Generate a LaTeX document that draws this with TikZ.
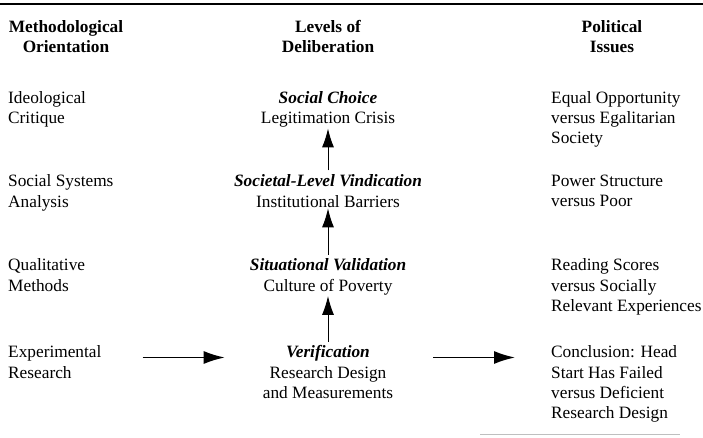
\documentclass[tikz,border=0pt]{standalone}
\usepackage{fontspec}
\setmainfont{Liberation Serif}
\usetikzlibrary{arrows.meta}

\begin{document}
\begin{tikzpicture}[x = 1pt, y = -1pt,
    every node/.style = {inner sep = 0pt, font = \fontsize{17.3}{20.3}\selectfont},
    head/.style = {anchor = north, align = center, font = \fontsize{17.3}{20.3}\selectfont\bfseries},
    orient/.style = {anchor = north west, align = left},
    level/.style = {anchor = north, align = center},
    issue/.style = {anchor = north west, align = left},
    uparrow/.style = {-{Latex[length = 19pt, width = 12pt]}, line width = 1pt, shorten <= 4pt, shorten >= 1pt},
    across/.style = {-{Latex[length = 21pt, width = 13pt]}, line width = 1.6pt}]
    \useasboundingbox (0,0) rectangle (703,438);
    \draw[line width = 2pt] (0,4) -- (703,4);
    % column heads
    \node[head] (hmeth) at (66,20) {Methodological\\Orientation};
    \node[head] (hlev) at (328,20) {Levels of\\Deliberation};
    \node[head] (hpol) at (612,20) {Political\\Issues};
    % methodological orientation
    \node[orient] (ideo) at (8,91) {Ideological\\Critique};
    \node[orient] (syst) at (8,174.5) {Social Systems\\Analysis};
    \node[orient] (qual) at (8,258.5) {Qualitative\\Methods};
    \node[orient] (exp) at (8,345.5) {Experimental\\Research};
    % levels of deliberation
    \node[level] (choice) at (328,91) {\textbf{\textit{Social Choice}}\\Legitimation Crisis};
    \node[level] (societal) at (328,174.5) {\textbf{\textit{Societal-Level Vindication}}\\Institutional Barriers};
    \node[level] (situ) at (328,258.5) {\textbf{\textit{Situational Validation}}\\Culture of Poverty};
    \node[level] (verif) at (328,345.5) {\textbf{\textit{Verification}}\\Research Design\\and Measurements};
    % political issues
    \node[issue] (equal) at (551,91) {Equal Opportunity\\versus Egalitarian\\Society};
    \node[issue] (power) at (551,174.5) {Power Structure\\versus Poor};
    \node[issue] (reading) at (551,258.5) {Reading Scores\\versus Socially\\Relevant Experiences};
    \node[issue] (concl) at (551,345.5) {Conclusion: Head\\Start Has Failed\\versus Deficient\\Research Design};
    % arrows
    \draw[uparrow] (verif.north) -- (situ.south);
    \draw[uparrow] (situ.north) -- (societal.south);
    \draw[uparrow] (societal.north) -- (choice.south);
    \draw[across, shorten <= 41pt, shorten >= 38pt] ([yshift = -12pt]exp.north east) -- ([yshift = -12pt]verif.north west);
    \draw[across, shorten <= 40pt, shorten >= 36pt] ([yshift = -12pt]verif.north east) -- ([yshift = -12pt]concl.north west);
    \draw[gray!50, line width = 1pt] (480,434) -- (680,434);
\end{tikzpicture}
\end{document}
